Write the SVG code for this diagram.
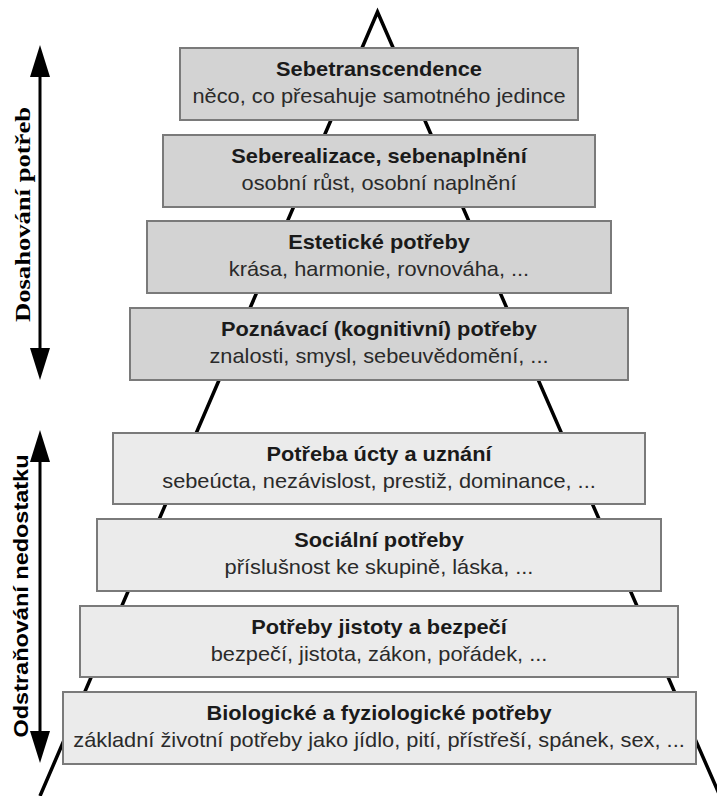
<svg xmlns="http://www.w3.org/2000/svg" width="717" height="796" viewBox="0 0 717 796">
  <style>
    .box-hi { fill: #d3d3d3; stroke: #7a7a7a; stroke-width: 2; }
    .box-lo { fill: #ebebeb; stroke: #7a7a7a; stroke-width: 2; }
    .t { font-family: "Liberation Sans", Arial, sans-serif; font-size: 20px; font-weight: bold; fill: #1a1a1a; text-anchor: middle; }
    .s { font-family: "Liberation Sans", Arial, sans-serif; font-size: 20px; fill: #2a2a2a; text-anchor: middle; }
    .side1 { font-family: "Liberation Serif", "Times New Roman", serif; font-size: 22px; font-weight: bold; fill: #000; text-anchor: middle; }
    .side2 { font-family: "Liberation Sans", Arial, sans-serif; font-size: 21px; font-weight: bold; fill: #000; text-anchor: middle; }
    .pyr { fill: none; stroke: #000; stroke-width: 3.5; stroke-linejoin: miter; }
    .arr { stroke: #000; stroke-width: 3; marker-start: url(#head); marker-end: url(#head); }
  </style>
  <defs>
    <marker id="head" markerUnits="userSpaceOnUse" markerWidth="32" markerHeight="20" refX="17" refY="10" orient="auto-start-reverse">
      <path d="M0,0 L32,10 L0,20 z" fill="#000"/>
    </marker>
  </defs>
  <rect width="717" height="796" fill="#fff"/>

  <g id="connectors">
    <polyline class="pyr" points="40,796 377.5,12 720,796"/>
    <line class="arr" x1="40" y1="60" x2="40" y2="365"/>
    <line class="arr" x1="40" y1="445" x2="40" y2="748"/>
  </g>

  <g id="labels-side">
    <text class="side1" transform="translate(30,214.5) rotate(-90)" textLength="215" lengthAdjust="spacingAndGlyphs">Dosahování potřeb</text>
    <text class="side2" transform="translate(28,596) rotate(-90)" textLength="283" lengthAdjust="spacingAndGlyphs">Odstraňování nedostatku</text>
  </g>

  <g id="n1">
    <rect class="box-hi" x="180" y="48" width="398" height="72"/>
    <g transform="translate(379,0) scale(1.09,1)">
      <text class="t" x="0" y="76">Sebetranscendence</text>
      <text class="s" x="0" y="103">něco, co přesahuje samotného jedince</text>
    </g>
  </g>
  <g id="n2">
    <rect class="box-hi" x="163" y="135" width="432" height="72"/>
    <g transform="translate(379,0) scale(1.09,1)">
      <text class="t" x="0" y="163">Seberealizace, sebenaplnění</text>
      <text class="s" x="0" y="190">osobní růst, osobní naplnění</text>
    </g>
  </g>
  <g id="n3">
    <rect class="box-hi" x="147" y="221" width="464" height="72"/>
    <g transform="translate(379,0) scale(1.09,1)">
      <text class="t" x="0" y="249">Estetické potřeby</text>
      <text class="s" x="0" y="276">krása, harmonie, rovnováha, ...</text>
    </g>
  </g>
  <g id="n4">
    <rect class="box-hi" x="130" y="308" width="498" height="72"/>
    <g transform="translate(379,0) scale(1.09,1)">
      <text class="t" x="0" y="336">Poznávací (kognitivní) potřeby</text>
      <text class="s" x="0" y="363">znalosti, smysl, sebeuvědomění, ...</text>
    </g>
  </g>
  <g id="n5">
    <rect class="box-lo" x="113" y="433" width="532" height="71"/>
    <g transform="translate(379,0) scale(1.09,1)">
      <text class="t" x="0" y="461">Potřeba úcty a uznání</text>
      <text class="s" x="0" y="488">sebeúcta, nezávislost, prestiž, dominance, ...</text>
    </g>
  </g>
  <g id="n6">
    <rect class="box-lo" x="97" y="519" width="564" height="72"/>
    <g transform="translate(379,0) scale(1.09,1)">
      <text class="t" x="0" y="547">Sociální potřeby</text>
      <text class="s" x="0" y="574">příslušnost ke skupině, láska, ...</text>
    </g>
  </g>
  <g id="n7">
    <rect class="box-lo" x="80" y="606" width="598" height="71"/>
    <g transform="translate(379,0) scale(1.09,1)">
      <text class="t" x="0" y="634">Potřeby jistoty a bezpečí</text>
      <text class="s" x="0" y="661">bezpečí, jistota, zákon, pořádek, ...</text>
    </g>
  </g>
  <g id="n8">
    <rect class="box-lo" x="63" y="692" width="633" height="72"/>
    <g transform="translate(379,0) scale(1.09,1)">
      <text class="t" x="0" y="720">Biologické a fyziologické potřeby</text>
      <text class="s" x="0" y="747">základní životní potřeby jako jídlo, pití, přístřeší, spánek, sex, ...</text>
    </g>
  </g>
</svg>
